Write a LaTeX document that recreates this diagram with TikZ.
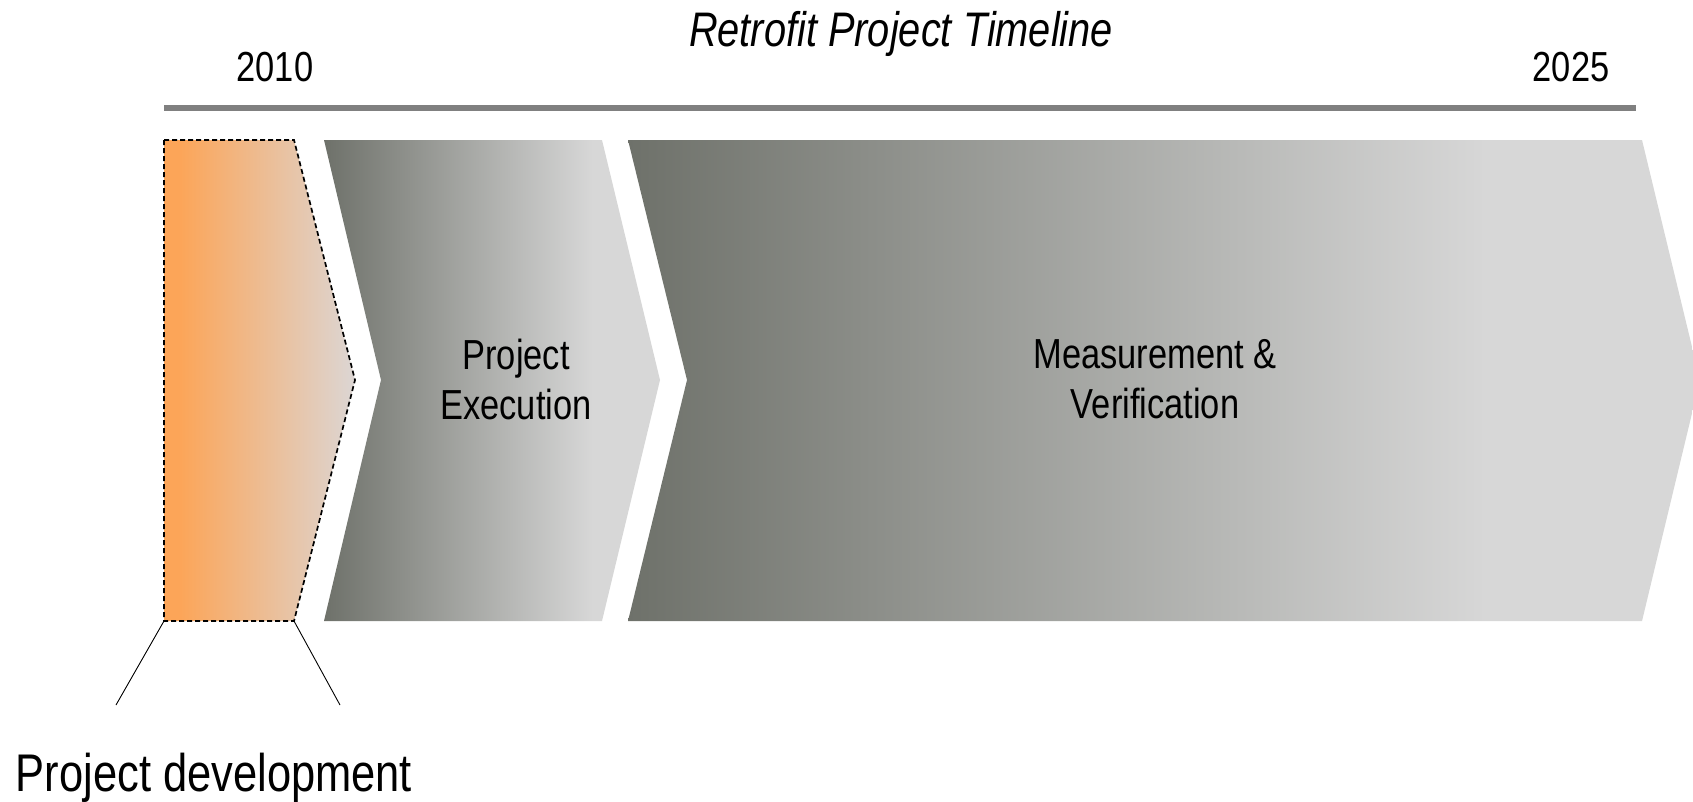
\documentclass[tikz,border=0pt]{standalone}
\usepackage{fontspec}
\setmainfont{Liberation Sans}[FakeStretch=0.82]
\definecolor{phaseL}{RGB}{110,113,106}
\definecolor{phaseR}{RGB}{215,215,215}
\definecolor{devL}{RGB}{252,165,88}
\definecolor{devR}{RGB}{220,214,212}
\definecolor{axis}{RGB}{128,128,128}
% the path's bounding box spans 25bp..75bp of each shading
\pgfdeclarehorizontalshading{phaseshade}{100bp}{color(0bp)=(phaseL); color(25bp)=(phaseL); color(65bp)=(phaseR); color(100bp)=(phaseR)}
\pgfdeclarehorizontalshading{devshade}{100bp}{color(0bp)=(devL); color(29bp)=(devL); color(75bp)=(devR); color(100bp)=(devR)}
\begin{document}
\begin{tikzpicture}[x=1pt,y=-1pt,
  lbl/.style={font=\fontsize{42}{50}\selectfont, text=black, inner sep=0pt, align=center},
  phase/.style={shading=phaseshade, draw=none},
  zoomline/.style={draw=black, line width=0.9pt}]
\useasboundingbox (0,0) rectangle (1693,801);

% title and years
\node[lbl, font=\fontsize{48.5}{56}\selectfont\itshape, anchor=base] (title) at (901,46) {Retrofit Project Timeline};
\node[lbl, anchor=base] (y2010) at (275,81) {2010};
\node[lbl, anchor=base] (y2025) at (1571,81) {2025};

% time axis
\coordinate (axL) at (164,108);
\coordinate (axR) at (1636,108);
\draw[axis, line width=5.5pt] (axL) -- (axR);

% phase chevrons
\path[phase] (628,140) -- (1642,140) -- (1700,380) -- (1642,621) -- (628,621) -- (687,380) -- cycle;
\path[phase] (324,140) -- (602,140) -- (660,380) -- (602,621) -- (324,621) -- (381,380) -- cycle;

% project development (highlighted)
\coordinate (devTL) at (164,140);
\coordinate (devTR) at (294,140);
\coordinate (devTip) at (355,380);
\coordinate (devBR) at (294,621);
\coordinate (devBL) at (164,621);
\path[shading=devshade] (devTL) -- (devTR) -- (devTip) -- (devBR) -- (devBL) -- cycle;
\draw[black, line width=1.7pt, dash pattern=on 5pt off 3pt] (devTL) -- (devTR) -- (devTip) -- (devBR) -- (devBL) -- cycle;

% phase labels
\node[lbl] (exec) at (516,379) {Project\\Execution};
\node[lbl] (mv) at (1155,379) {Measurement \&\\Verification};

% zoom-out callout
\node[lbl, font=\fontsize{53}{60}\selectfont, anchor=base] (dev) at (214,791) {Project development};
\coordinate (zL) at (116,705);
\coordinate (zR) at (340,705);
\draw[zoomline] (devBL) -- (zL);
\draw[zoomline] (devBR) -- (zR);
\end{tikzpicture}
\end{document}
